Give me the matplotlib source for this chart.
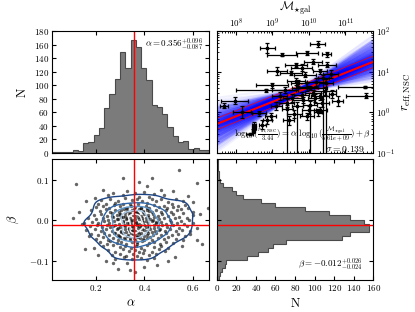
import numpy as np
import matplotlib
matplotlib.use("Agg")
import matplotlib.pyplot as plt

plt.rcParams.update({
    'font.family': 'serif',
    'font.serif': ['cmr10', 'DejaVu Serif'],
    'mathtext.fontset': 'cm',
    'axes.formatter.use_mathtext': True,
    'axes.unicode_minus': True,
    'font.size': 6.5,
    'xtick.direction': 'in',
    'ytick.direction': 'in',
    'xtick.top': True,
    'ytick.right': True,
    'xtick.major.size': 3,
    'ytick.major.size': 3,
    'xtick.minor.size': 1.5,
    'ytick.minor.size': 1.5,
    'xtick.major.pad': 2.5,
    'ytick.major.pad': 2,
    'axes.linewidth': 0.8,
})

# ---- MCMC results ----
alpha_med, alpha_up, alpha_lo = 0.356, 0.096, 0.087
beta_med, beta_up, beta_lo = -0.012, 0.026, 0.024
sigma_int = 0.139
r_norm, m_norm = 3.44, 5.61e9

# alpha histogram (30 bins)
alpha_edges = np.linspace(0.0166, 0.669, 31)
alpha_counts = [1, 1, 1, 2, 4, 3, 15, 16, 27, 37, 67, 87, 109, 149, 126,
                166, 156, 125, 107, 71, 68, 57, 38, 25, 16, 17, 6, 8, 4, 4]

# beta histogram (30 bins, listed from top bin to bottom bin)
beta_edges = np.linspace(-0.148, 0.151, 31)
beta_counts_top_down = [1, 1, 1, 2, 2, 3, 6, 16, 20, 27, 45, 60, 90, 115, 136,
                        150, 156, 156, 136, 128, 71, 58, 52, 42, 31, 10, 8, 5, 3, 2]

# posterior samples (alpha, beta)
samples = [
    (0.117, 0.089), (0.104, 0.006), (0.545, 0.125), (0.617, 0.091), (0.662, 0.029),
    (0.617, -0.049), (0.451, -0.111), (0.362, -0.128), (0.339, -0.124), (0.19, -0.07),
    (0.155, -0.071), (0.16, 0.047), (0.64, -0.06), (0.58, 0.06), (0.60, 0.02),
    (0.555, -0.065), (0.525, -0.09), (0.29, -0.12), (0.27, -0.105), (0.31, 0.105),
    (0.38, 0.095), (0.43, 0.105), (0.41, 0.085), (0.47, 0.075), (0.52, 0.072),
    (0.23, 0.075), (0.21, 0.04), (0.195, 0.055), (0.14, -0.01), (0.13, 0.02),
    (0.17, -0.04), (0.62, -0.02), (0.59, -0.035), (0.5, -0.1), (0.4, -0.115),
    (0.33, -0.107), (0.24, -0.1), (0.21, -0.085),
    (0.27, 0.068), (0.33, 0.071), (0.36, 0.066), (0.40, 0.069), (0.44, 0.064),
    (0.31, 0.062), (0.48, 0.061), (0.25, 0.063), (0.38, 0.058), (0.42, 0.057),
    (0.53, 0.052), (0.56, 0.047),
    (0.22, 0.05), (0.26, 0.052), (0.29, 0.048), (0.32, 0.054), (0.35, 0.049),
    (0.37, 0.053), (0.39, 0.046), (0.43, 0.051), (0.45, 0.047), (0.47, 0.052),
    (0.50, 0.045), (0.28, 0.043), (0.34, 0.041), (0.41, 0.042), (0.515, 0.04),
    (0.24, 0.041), (0.54, 0.035), (0.57, 0.038), (0.60, 0.045),
    (0.2, 0.033), (0.23, 0.036), (0.255, 0.031), (0.275, 0.038), (0.30, 0.034),
    (0.31, 0.039), (0.325, 0.03), (0.345, 0.036), (0.36, 0.032), (0.375, 0.039),
    (0.385, 0.031), (0.405, 0.035), (0.42, 0.03), (0.44, 0.037), (0.46, 0.032),
    (0.48, 0.036), (0.495, 0.03), (0.52, 0.033), (0.55, 0.027), (0.58, 0.03),
    (0.18, 0.025), (0.215, 0.022), (0.24, 0.028), (0.26, 0.021), (0.28, 0.026),
    (0.295, 0.02), (0.315, 0.027), (0.33, 0.022), (0.35, 0.025), (0.365, 0.02),
    (0.38, 0.027), (0.395, 0.022), (0.41, 0.026), (0.43, 0.021), (0.45, 0.025),
    (0.47, 0.02), (0.49, 0.024), (0.51, 0.021), (0.535, 0.026), (0.56, 0.018),
    (0.60, 0.012), (0.63, 0.015),
    (0.19, 0.012), (0.22, 0.015), (0.245, 0.011), (0.265, 0.017), (0.285, 0.013),
    (0.30, 0.016), (0.32, 0.011), (0.335, 0.015), (0.355, 0.012), (0.37, 0.017),
    (0.385, 0.01), (0.40, 0.015), (0.415, 0.012), (0.435, 0.016), (0.455, 0.011),
    (0.475, 0.015), (0.50, 0.01), (0.52, 0.014), (0.545, 0.008), (0.575, 0.005),
    (0.165, 0.004), (0.2, 0.002), (0.23, 0.006), (0.25, 0.001), (0.27, 0.007),
    (0.29, 0.003), (0.305, 0.008), (0.325, 0.002), (0.34, 0.006), (0.36, 0.003),
    (0.375, 0.008), (0.39, 0.001), (0.405, 0.006), (0.425, 0.003), (0.44, 0.007),
    (0.46, 0.002), (0.48, 0.006), (0.505, 0.001), (0.525, 0.005), (0.55, -0.002),
    (0.585, 0.0),
    (0.15, -0.006), (0.185, -0.004), (0.21, -0.008), (0.235, -0.003), (0.255, -0.007),
    (0.275, -0.002), (0.295, -0.009), (0.31, -0.004), (0.33, -0.008), (0.345, -0.002),
    (0.365, -0.006), (0.38, -0.009), (0.395, -0.004), (0.415, -0.007), (0.43, -0.002),
    (0.45, -0.008), (0.47, -0.004), (0.49, -0.009), (0.51, -0.005), (0.535, -0.008),
    (0.565, -0.01), (0.6, -0.007),
    (0.175, -0.015), (0.205, -0.012), (0.225, -0.018), (0.245, -0.013), (0.26, -0.017),
    (0.28, -0.011), (0.30, -0.016), (0.315, -0.012), (0.335, -0.019), (0.35, -0.014),
    (0.37, -0.011), (0.385, -0.017), (0.40, -0.013), (0.42, -0.018), (0.44, -0.012),
    (0.455, -0.016), (0.475, -0.011), (0.495, -0.017), (0.52, -0.013), (0.545, -0.019),
    (0.575, -0.015),
    (0.16, -0.025), (0.195, -0.022), (0.22, -0.028), (0.24, -0.021), (0.265, -0.026),
    (0.285, -0.023), (0.305, -0.029), (0.32, -0.022), (0.34, -0.027), (0.355, -0.024),
    (0.375, -0.029), (0.39, -0.021), (0.41, -0.026), (0.425, -0.023), (0.445, -0.028),
    (0.465, -0.022), (0.485, -0.027), (0.505, -0.023), (0.53, -0.028), (0.555, -0.024),
    (0.59, -0.027),
    (0.18, -0.035), (0.21, -0.038), (0.235, -0.032), (0.255, -0.037), (0.275, -0.031),
    (0.29, -0.036), (0.31, -0.033), (0.33, -0.039), (0.345, -0.032), (0.365, -0.036),
    (0.38, -0.034), (0.40, -0.039), (0.415, -0.031), (0.435, -0.036), (0.45, -0.033),
    (0.47, -0.038), (0.49, -0.032), (0.515, -0.037), (0.54, -0.034), (0.57, -0.04),
    (0.2, -0.046), (0.23, -0.042), (0.25, -0.048), (0.27, -0.044), (0.29, -0.049),
    (0.30, -0.041), (0.32, -0.046), (0.34, -0.043), (0.36, -0.048), (0.375, -0.042),
    (0.395, -0.047), (0.41, -0.044), (0.43, -0.049), (0.455, -0.043), (0.48, -0.047),
    (0.50, -0.042), (0.53, -0.046), (0.56, -0.05),
    (0.215, -0.055), (0.245, -0.058), (0.26, -0.052), (0.285, -0.057), (0.305, -0.053),
    (0.325, -0.059), (0.35, -0.054), (0.37, -0.058), (0.39, -0.052), (0.42, -0.056),
    (0.44, -0.053), (0.465, -0.058), (0.49, -0.055), (0.52, -0.057),
    (0.23, -0.065), (0.27, -0.062), (0.3, -0.067), (0.32, -0.063), (0.345, -0.068),
    (0.365, -0.064), (0.385, -0.069), (0.41, -0.062), (0.44, -0.066), (0.47, -0.063),
    (0.5, -0.069),
    (0.25, -0.074), (0.28, -0.078), (0.31, -0.072), (0.335, -0.077), (0.36, -0.073),
    (0.38, -0.079), (0.40, -0.074), (0.43, -0.078), (0.46, -0.072), (0.485, -0.076),
    (0.265, -0.085), (0.3, -0.083), (0.325, -0.088), (0.355, -0.084), (0.37, -0.089),
    (0.395, -0.082), (0.42, -0.087), (0.45, -0.084),
    (0.28, -0.095), (0.315, -0.092), (0.35, -0.097), (0.385, -0.093), (0.41, -0.098),
    (0.44, -0.094),
    # dense core
    (0.30, 0.012), (0.31, -0.001), (0.32, -0.015), (0.325, -0.03), (0.33, 0.005),
    (0.335, -0.022), (0.34, 0.018), (0.345, -0.01), (0.35, 0.0), (0.352, -0.035),
    (0.355, -0.018), (0.36, 0.01), (0.362, -0.027), (0.365, -0.005), (0.37, -0.042),
    (0.372, 0.014), (0.375, -0.02), (0.38, 0.002), (0.385, -0.032), (0.39, -0.012),
    (0.395, 0.019), (0.40, -0.025), (0.405, -0.003), (0.41, -0.038), (0.415, 0.008),
    (0.42, -0.015), (0.43, -0.03), (0.435, 0.0), (0.44, -0.02), (0.29, -0.02),
    (0.295, -0.04), (0.285, 0.002), (0.28, -0.033), (0.305, 0.025), (0.315, -0.045),
    (0.328, 0.03), (0.358, 0.028), (0.388, 0.03), (0.418, 0.022), (0.342, -0.048),
    (0.368, -0.055), (0.398, -0.05), (0.27, -0.015), (0.45, -0.005), (0.46, -0.025),
    (0.265, 0.01), (0.312, 0.008), (0.338, -0.006), (0.348, -0.028), (0.363, 0.017),
    (0.378, -0.014), (0.392, 0.006), (0.408, -0.018), (0.422, -0.041), (0.302, -0.026),
    (0.322, 0.018), (0.333, -0.038), (0.357, -0.044), (0.383, -0.043), (0.412, 0.03),
]
alpha_s = np.array([s[0] for s in samples])
beta_s = np.array([s[1] for s in samples])

# NSC data: log10 M_gal, log10 r_eff, error in M (dex), lower / upper error in r (dex)
logM = [8.86, 9.27, 9.65, 9.12, 9.50, 8.82, 9.00, 7.96, 7.67, 8.17, 8.63, 8.86, 8.95,
        8.49, 8.50, 8.48, 8.38, 9.41, 9.39, 9.64, 10.24, 10.49, 9.94, 10.12, 10.49,
        10.31, 10.40, 9.90, 9.71, 10.03, 11.54, 11.57, 10.79, 10.12, 9.80, 10.31, 9.68,
        10.03, 10.31, 10.17, 10.45, 10.47, 9.55, 9.85, 10.0, 9.2, 9.35, 10.2, 10.6,
        9.6, 9.95, 10.35, 9.1, 9.45, 10.25, 8.72, 9.8, 10.64, 9.95]
logr = [1.58, 1.42, 1.17, 1.01, 0.97, 0.54, 0.66, 0.29, 0.16, 0.00, -0.02, -0.18, -0.10,
        -0.30, -0.39, -0.47, -0.53, 0.07, 0.23, 0.76, 1.68, 1.43, 1.46, 1.25, 1.17,
        1.01, 0.84, 0.93, 0.72, 0.60, 0.62, 0.41, 0.27, 0.48, 0.43, 0.39, 0.15,
        0.19, 0.06, 0.35, 0.52, 0.72, 0.35, 0.30, 0.05, 0.40, 0.55, 0.75, 0.95,
        -0.05, 0.62, 0.23, 0.15, -0.20, 0.00, -0.30, 1.10, 0.45, -0.10]
errM = [0.21, 0.41, 0.3, 0.27, 0.3, 0.82, 0.44, 0.37, 0.12, 0.25, 0.2, 0.12, 0.15,
        0.05, 0.05, 0.05, 0.1, 0.15, 0.2, 0.25, 0.21, 0.12, 0.3, 0.25, 0.25,
        0.2, 0.15, 0.3, 0.2, 0.48, 0.73, 0.55, 0.15, 0.22, 0.2, 0.25, 0.15,
        0.2, 0.18, 0.2, 0.3, 0.2, 0.25, 0.3, 0.2, 0.2, 0.35, 0.25, 0.2,
        0.2, 0.3, 0.2, 0.15, 0.15, 0.1, 0.1, 0.3, 0.1, 0.2]
errr_lo = [0.12, 0.03, 0.05, 0.1, 0.05, 0.04, 0.06, 0.08, 0.06, 0.15, 0.06, 0.1, 0.08,
           0.06, 0.05, 0.05, 0.03, 3.0, 0.1, 0.08, 0.08, 0.06, 0.05, 0.05, 0.06,
           0.06, 3.0, 0.06, 0.08, 0.05, 0.03, 0.06, 0.12, 0.06, 0.08, 0.08, 3.0,
           3.0, 0.08, 0.1, 0.1, 3.0, 0.1, 0.08, 0.1, 0.1, 0.08, 0.1, 0.1,
           0.1, 0.1, 0.1, 0.1, 0.1, 0.08, 0.1, 0.08, 0.1, 0.08]
errr_hi = [0.12, 0.03, 0.05, 0.1, 0.05, 0.04, 0.06, 0.08, 0.06, 0.15, 0.06, 0.1, 0.08,
           0.06, 0.05, 0.05, 0.03, 0.1, 0.1, 0.08, 0.08, 0.06, 0.05, 0.05, 0.06,
           0.06, 0.08, 0.06, 0.08, 0.05, 0.03, 0.06, 0.12, 0.06, 0.08, 0.08, 0.1,
           0.1, 0.08, 0.1, 0.1, 0.1, 0.1, 0.08, 0.1, 0.1, 0.08, 0.1, 0.1,
           0.1, 0.1, 0.1, 0.1, 0.1, 0.08, 0.1, 0.08, 0.1, 0.08]

# ---- figure ----
fig = plt.figure(figsize=(4.15, 3.12), dpi=100)
W, H = 415.0, 312.0
def box(x0, y0, x1, y1):
    return [x0 / W, 1 - y1 / H, (x1 - x0) / W, (y1 - y0) / H]

ax_a = fig.add_axes(box(51.7, 31, 209.3, 153))
ax_fit = fig.add_axes(box(216.7, 31, 373.3, 153))
ax_ab = fig.add_axes(box(51.7, 159, 209.3, 280))
ax_b = fig.add_axes(box(216.7, 159, 373.3, 280))

fill_c, edge_c = '#7b7b7b', '#4a4a4a'
alim = (alpha_edges[0], alpha_edges[-1])
blim = (beta_edges[0], beta_edges[-1])

# alpha histogram
ax_a.stairs(alpha_counts, alpha_edges, fill=True, facecolor=fill_c,
            edgecolor=edge_c, linewidth=0.8)
ax_a.axvline(alpha_med, color='red', lw=1)
ax_a.set_xlim(*alim)
ax_a.set_ylim(0, 180)
ax_a.set_yticks(np.arange(0, 181, 20))
ax_a.set_xticks([0.2, 0.4, 0.6])
ax_a.tick_params(labelbottom=False)
ax_a.set_ylabel('N', fontsize=9, labelpad=4)
ax_a.text(0.96, 0.89, r'$\alpha = %.3f^{+%.3f}_{-%.3f}$' % (alpha_med, alpha_up, alpha_lo),
          transform=ax_a.transAxes, ha='right', va='center', fontsize=6.5)

# alpha-beta scatter with density contours
ax_ab.scatter(alpha_s, beta_s, s=6, c='k', alpha=0.6, linewidths=0)
ga = np.linspace(alim[0], alim[1], 150)
gb = np.linspace(blim[0], blim[1], 150)
GA, GB = np.meshgrid(ga, gb)
ha, hb = 0.034, 0.010
dens = np.zeros_like(GA)
for a_i, b_i in zip(alpha_s, beta_s):
    dens += np.exp(-0.5 * ((GA - a_i) / ha) ** 2 - 0.5 * ((GB - b_i) / hb) ** 2)
dens /= dens.max()
ax_ab.contour(GA, GB, dens, levels=[0.22, 0.45, 0.65, 0.85, 0.96],
              colors=['#1d4585', '#2f66a8', '#5a93c8', '#a9c9e6', '#f0f5fb'],
              linewidths=1.0)
ax_ab.axvline(alpha_med, color='red', lw=1)
ax_ab.axhline(beta_med, color='red', lw=1)
ax_ab.set_xlim(*alim)
ax_ab.set_ylim(*blim)
ax_ab.set_xticks([0.2, 0.4, 0.6])
ax_ab.set_yticks([-0.1, 0.0, 0.1])
ax_ab.set_xlabel(r'$\alpha$', fontsize=9, labelpad=3)
ax_ab.set_ylabel(r'$\beta$', fontsize=9, labelpad=6)

# beta histogram (horizontal)
ax_b.stairs(beta_counts_top_down[::-1], beta_edges, orientation='horizontal', fill=True,
            facecolor=fill_c, edgecolor=edge_c, linewidth=0.8)
ax_b.axhline(beta_med, color='red', lw=1)
ax_b.set_ylim(*blim)
ax_b.set_xlim(0, 160)
ax_b.set_xticks(np.arange(0, 161, 20))
ax_b.set_yticks([-0.1, 0.0, 0.1])
ax_b.tick_params(labelleft=False)
ax_b.set_xlabel('N', fontsize=9, labelpad=3)
ax_b.text(0.93, 0.13, r'$\beta = %.3f^{+%.3f}_{-%.3f}$' % (beta_med, beta_up, beta_lo),
          transform=ax_b.transAxes, ha='right', va='center', fontsize=6.5)

# fit panel
xm = np.logspace(7.47, 11.77, 50)
for a_i, b_i in zip(alpha_s, beta_s):
    ax_fit.plot(xm, r_norm * (xm / m_norm) ** a_i * 10 ** b_i, color='blue',
                alpha=0.05, lw=1.5)
yfit = r_norm * (xm / m_norm) ** alpha_med * 10 ** beta_med
ax_fit.plot(xm, yfit, color='red', lw=1.5)
ax_fit.plot(xm, yfit * 10 ** sigma_int, color='red', lw=0.5)
ax_fit.plot(xm, yfit / 10 ** sigma_int, color='red', lw=0.5)

M = 10 ** np.array(logM)
R = 10 ** np.array(logr)
eM = np.array(errM)
xerr = [M - M / 10 ** eM, M * 10 ** eM - M]
yerr = [R - R / 10 ** np.array(errr_lo), R * 10 ** np.array(errr_hi) - R]
ax_fit.errorbar(M, R, xerr=xerr, yerr=yerr, fmt='s', color='k', ms=1.5,
                elinewidth=0.9, capsize=1.5, capthick=0.9)

ax_fit.set_xscale('log')
ax_fit.set_yscale('log')
ax_fit.set_xlim(10 ** 7.47, 10 ** 11.77)
ax_fit.set_ylim(0.1, 100)
ax_fit.xaxis.set_label_position('top')
ax_fit.yaxis.set_label_position('right')
ax_fit.tick_params(which='both', labelbottom=False, labeltop=True,
                   labelleft=False, labelright=True)
ax_fit.tick_params(axis='x', which='major', pad=1)
ax_fit.set_xlabel(r'$\mathcal{M}_{\star{\rm gal}}$', fontsize=8.5, labelpad=4)
ax_fit.set_ylabel(r'$r_{\rm eff,NSC}$', fontsize=9, labelpad=3)
ax_fit.text(0.985, 0.155,
            r'$\log_{10}(\frac{r_{\rm eff,NSC}}{3.44}) = \alpha\ \log_{10}(\frac{\mathcal{M}_{\star{\rm gal}}}{5.61e+09}) + \beta$',
            transform=ax_fit.transAxes, ha='right', va='center', fontsize=6.4)
ax_fit.text(0.945, 0.035, r'$\sigma = %.3f$' % sigma_int, transform=ax_fit.transAxes,
            ha='right', va='center', fontsize=7)

fig.savefig('out.png', dpi=100)
